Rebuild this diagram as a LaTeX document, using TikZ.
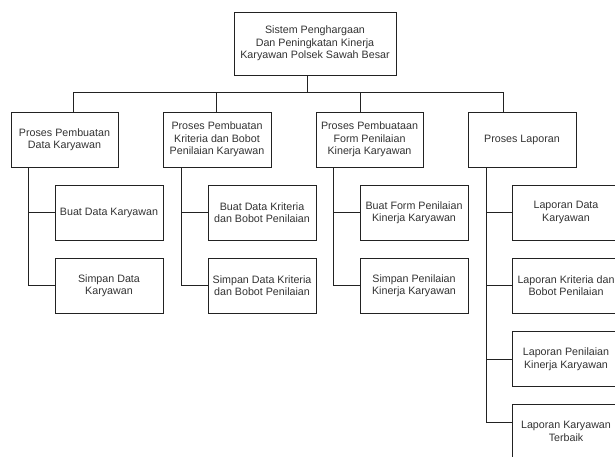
\documentclass[tikz,border=0pt]{standalone}
\usepackage{fontspec}
\setmainfont{Liberation Sans}
\definecolor{ln}{HTML}{222222}
\definecolor{txt}{HTML}{333333}
\begin{document}
\begin{tikzpicture}[x=1pt,y=-1pt,
  every node/.style={font=\fontsize{10.7}{12.5}\selectfont, text=txt},
  box/.style={draw=ln, line width=0.8pt, minimum width=108pt, minimum height=55pt, align=center, inner sep=0pt, fill=white},
  conn/.style={draw=ln, line width=0.8pt}]
\useasboundingbox (0,0) rectangle (615,456);
\clip (0,0) rectangle (615,456);
\node[box, minimum width=162pt, minimum height=63pt] (top) at (315,43.5) {Sistem Penghargaan\\Dan Peningkatan Kinerja\\Karyawan Polsek Sawah Besar};
\node[box, minimum width=107pt] (b1) at (64.5,139.5) {Proses Pembuatan\\Data Karyawan};
\node[box] (b2) at (217,139.5) {Proses Pembuatan\\Kriteria dan Bobot\\Penilaian Karyawan};
\node[box, minimum width=107pt] (b3) at (369.5,139.5) {Proses Pembuataan\\Form Penilaian\\Kinerja Karyawan};
\node[box] (b4) at (522,139.5) {Proses Laporan};
\node[box] (c11) at (109,212.5) {Buat Data Karyawan};
\node[box] (c12) at (109,285.5) {Simpan Data\\Karyawan};
\node[box] (c21) at (262,212.5) {Buat Data Kriteria\\dan Bobot Penilaian};
\node[box] (c22) at (262,285.5) {Simpan Data Kriteria\\dan Bobot Penilaian};
\node[box] (c31) at (414,212.5) {Buat Form Penilaian\\Kinerja Karyawan};
\node[box] (c32) at (414,285.5) {Simpan Penilaian\\Kinerja Karyawan};
\node[box] (c41) at (566,212.5) {Laporan Data\\Karyawan};
\node[box] (c42) at (566,285.5) {Laporan Kriteria dan\\Bobot Penilaian};
\node[box] (c43) at (566,359) {Laporan Penilaian\\Kinerja Karyawan};
\node[box] (c44) at (566,431.5) {Laporan Karyawan\\Terbaik};
% bus
\coordinate (bus) at (0,92.5);
\draw[conn] ([xshift=-8pt]top.south) -- ([xshift=-8pt]top.south |- bus);
\draw[conn] ([xshift=8.5pt]b1.north) |- ([xshift=-19pt]b4.north |- bus) -- ([xshift=-19pt]b4.north);
\draw[conn] ([xshift=-1pt]b2.north) -- ([xshift=-1pt]b2.north |- bus);
\draw[conn] ([xshift=-9.5pt]b3.north) -- ([xshift=-9.5pt]b3.north |- bus);
% children
\coordinate (v1) at ([xshift=-36.5pt]b1.south);
\draw[conn] (v1) |- (c12.west);
\draw[conn] (v1 |- c11.west) -- (c11.west);
\coordinate (v2) at ([xshift=-36pt]b2.south);
\draw[conn] (v2) |- (c22.west);
\draw[conn] (v2 |- c21.west) -- (c21.west);
\coordinate (v3) at ([xshift=-36.5pt]b3.south);
\draw[conn] (v3) |- (c32.west);
\draw[conn] (v3 |- c31.west) -- (c31.west);
\coordinate (v4) at ([xshift=-36pt]b4.south);
\draw[conn] (v4) |- ([yshift=9.5pt]c44.west);
\draw[conn] (v4 |- c41.west) -- (c41.west);
\draw[conn] (v4 |- c42.west) -- (c42.west);
\draw[conn] (v4 |- c43.west) -- (c43.west);
\end{tikzpicture}
\end{document}
